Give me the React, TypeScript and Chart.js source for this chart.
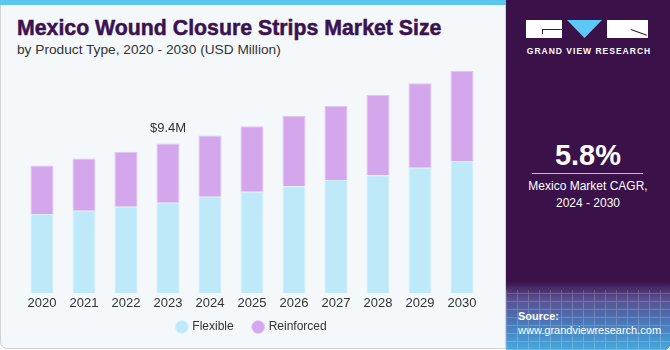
import React, { useEffect, useRef } from "react";
import { Chart, registerables } from "chart.js";

Chart.register(...registerables);

const years = ["2020", "2021", "2022", "2023", "2024", "2025", "2026", "2027", "2028", "2029", "2030"];
const flexible = [4.97, 5.18, 5.43, 5.68, 6.05, 6.37, 6.72, 7.1, 7.41, 7.87, 8.29];
const reinforced = [3.05, 3.28, 3.44, 3.72, 3.85, 4.11, 4.39, 4.64, 5.02, 5.29, 5.66];
const seriesNames = ["Flexible", "Reinforced"];
const calloutYear = "2023";
const calloutLabel = "$9.4M";

const title = "Mexico Wound Closure Strips Market Size";
const subtitle = "by Product Type, 2020 - 2030 (USD Million)";
const cagrValue = "5.8%";
const cagrLine1 = "Mexico Market CAGR,";
const cagrLine2 = "2024 - 2030";

const FONT = "'Liberation Sans', Arial, sans-serif";
const LEGEND_LIFT = 12;

const calloutPlugin = {
  id: "callout",
  afterDatasetsDraw(chart: any) {
    const idx = years.indexOf(calloutYear);
    if (idx < 0) return;
    const total = flexible[idx] + reinforced[idx];
    const x = chart.scales.x.getPixelForValue(idx);
    const y = chart.scales.y.getPixelForValue(total);
    const ctx = chart.ctx;
    ctx.save();
    ctx.font = `13px ${FONT}`;
    ctx.fillStyle = "#333333";
    ctx.textAlign = "center";
    ctx.textBaseline = "alphabetic";
    ctx.fillText(calloutLabel, x, y - 11);
    ctx.restore();
  },
};

const legendLiftPlugin = {
  id: "legendLift",
  afterLayout(chart: any) {
    const lg = chart.legend;
    if (!lg) return;
    lg.top -= LEGEND_LIFT;
    lg.bottom -= LEGEND_LIFT;
    if (lg.legendHitBoxes) lg.legendHitBoxes.forEach((h: any) => (h.top -= LEGEND_LIFT));
  },
};

function BarChart() {
  const ref = useRef<HTMLCanvasElement | null>(null);
  useEffect(() => {
    if (!ref.current) return;
    const chart = new Chart(ref.current, {
      type: "bar",
      data: {
        labels: years,
        datasets: [
          {
            label: seriesNames[0],
            data: flexible,
            backgroundColor: "#bde9f8",
            borderColor: "#d2f1fb",
            borderWidth: 1,
            categoryPercentage: 1,
            barPercentage: 0.55,
          },
          {
            label: seriesNames[1],
            data: reinforced,
            backgroundColor: "#d4a7ec",
            borderColor: "#e2c4f3",
            borderWidth: 1,
            categoryPercentage: 1,
            barPercentage: 0.55,
          },
        ],
      },
      options: {
        animation: false,
        responsive: false,
        maintainAspectRatio: false,
        layout: { padding: { left: 21, right: 23, top: 54, bottom: 1 } },
        scales: {
          x: {
            stacked: true,
            grid: { display: false, drawTicks: false },
            border: { display: false },
            ticks: { color: "#333333", font: { size: 13, family: FONT }, padding: 2 },
          },
          y: {
            stacked: true,
            display: false,
            min: 0,
            max: 15,
          },
        },
        plugins: {
          legend: {
            position: "bottom",
            labels: {
              usePointStyle: true,
              pointStyle: "circle",
              boxWidth: 9,
              boxHeight: 9,
              padding: 20,
              color: "#333333",
              font: { size: 12, family: FONT },
            },
          },
          tooltip: { enabled: false },
        },
      },
      plugins: [calloutPlugin, legendLiftPlugin],
    });
    return () => chart.destroy();
  }, []);
  return (
    <canvas
      ref={ref}
      width={506}
      height={356}
      style={{ position: "absolute", left: 0, top: 0, width: 506, height: 356 }}
    />
  );
}

export default function App() {
  return (
    <div
      style={{
        position: "fixed",
        left: 0,
        top: 0,
        width: 670,
        height: 350,
        background: "#ffffff",
        fontFamily: FONT,
        overflow: "hidden",
      }}
    >
      <div
        style={{
          position: "absolute",
          left: 0,
          top: 0,
          width: 506,
          height: 349,
          background: "#f4f8fb",
          border: "1px solid #cfd3d6",
          borderTop: "none",
          borderRadius: "0 0 0 7px",
          boxSizing: "border-box",
        }}
      />
      <div style={{ position: "absolute", left: 0, top: 0, width: 506, height: 5, background: "#5cc6ee" }} />
      <div
        style={{
          position: "absolute",
          left: 17,
          top: 16,
          fontSize: 21.3,
          fontWeight: 700,
          color: "#3b1250",
          whiteSpace: "nowrap",
          lineHeight: "24px",
          WebkitTextStroke: "0.5px #3b1250",
        }}
      >
        {title}
      </div>
      <div
        style={{
          position: "absolute",
          left: 17,
          top: 41,
          fontSize: 13.7,
          color: "#333333",
          whiteSpace: "nowrap",
          lineHeight: "18px",
        }}
      >
        {subtitle}
      </div>
      <BarChart />
      {/* right panel */}
      <div
        style={{
          position: "absolute",
          left: 506,
          top: 0,
          width: 164,
          height: 350,
          background: "#3a1148",
          borderRadius: "0 0 6px 0",
          overflow: "hidden",
        }}
      >
        <div
          style={{
            position: "absolute",
            left: 0,
            top: 281,
            width: 164,
            height: 69,
            background: "linear-gradient(180deg, #3a1148 0%, #5a4f8f 25%, #4b78b8 60%, #49a9dc 100%)",
          }}
        />
        <div
          style={{
            position: "absolute",
            left: 0,
            top: 290,
            width: 164,
            height: 60,
            opacity: 0.18,
            backgroundImage:
              "repeating-linear-gradient(90deg, #ffffff 0 1px, transparent 1px 11px), repeating-linear-gradient(0deg, #ffffff 0 1px, transparent 1px 8px)",
          }}
        />
        {/* logo */}
        <div style={{ position: "absolute", left: 20, top: 20, width: 36, height: 18, background: "#ffffff" }} />
        <div style={{ position: "absolute", left: 36, top: 29, width: 20, height: 1, background: "#3a1148" }} />
        <div style={{ position: "absolute", left: 36, top: 29, width: 1, height: 5, background: "#3a1148" }} />
        <div
          style={{
            position: "absolute",
            left: 61,
            top: 20,
            width: 35,
            height: 18,
            background: "#5bc8f5",
            clipPath: "polygon(0 0, 100% 0, 50% 100%)",
          }}
        />
        <div style={{ position: "absolute", left: 101, top: 20, width: 41, height: 18, background: "#ffffff" }} />
        <div
          style={{
            position: "absolute",
            left: 125,
            top: 29,
            width: 17,
            height: 1,
            background: "#3a1148",
            transform: "rotate(20deg)",
            transformOrigin: "0 0",
          }}
        />
        <div
          style={{
            position: "absolute",
            left: 0,
            width: 164,
            top: 45,
            textAlign: "center",
            color: "#ffffff",
            fontSize: 8.5,
            fontWeight: 700,
            letterSpacing: 1,
            lineHeight: "12px",
            paddingLeft: 1,
          }}
        >
          GRAND VIEW RESEARCH
        </div>
        <div
          style={{
            position: "absolute",
            left: 0,
            width: 164,
            top: 138,
            textAlign: "center",
            color: "#ffffff",
            fontSize: 29,
            fontWeight: 700,
            lineHeight: "34px",
          }}
        >
          {cagrValue}
        </div>
        <div style={{ position: "absolute", left: 26, top: 173, width: 111, height: 1, background: "#c9b8d6" }} />
        <div
          style={{
            position: "absolute",
            left: 0,
            width: 164,
            top: 178,
            textAlign: "center",
            color: "#ffffff",
            fontSize: 12,
            lineHeight: "17px",
          }}
        >
          {cagrLine1}
          <br />
          {cagrLine2}
        </div>
        <div
          style={{
            position: "absolute",
            left: 12,
            top: 309,
            color: "#ffffff",
            fontSize: 11,
            lineHeight: "14px",
          }}
        >
          <div style={{ fontWeight: 700 }}>Source:</div>
          <div>www.grandviewresearch.com</div>
        </div>
      </div>
    </div>
  );
}
